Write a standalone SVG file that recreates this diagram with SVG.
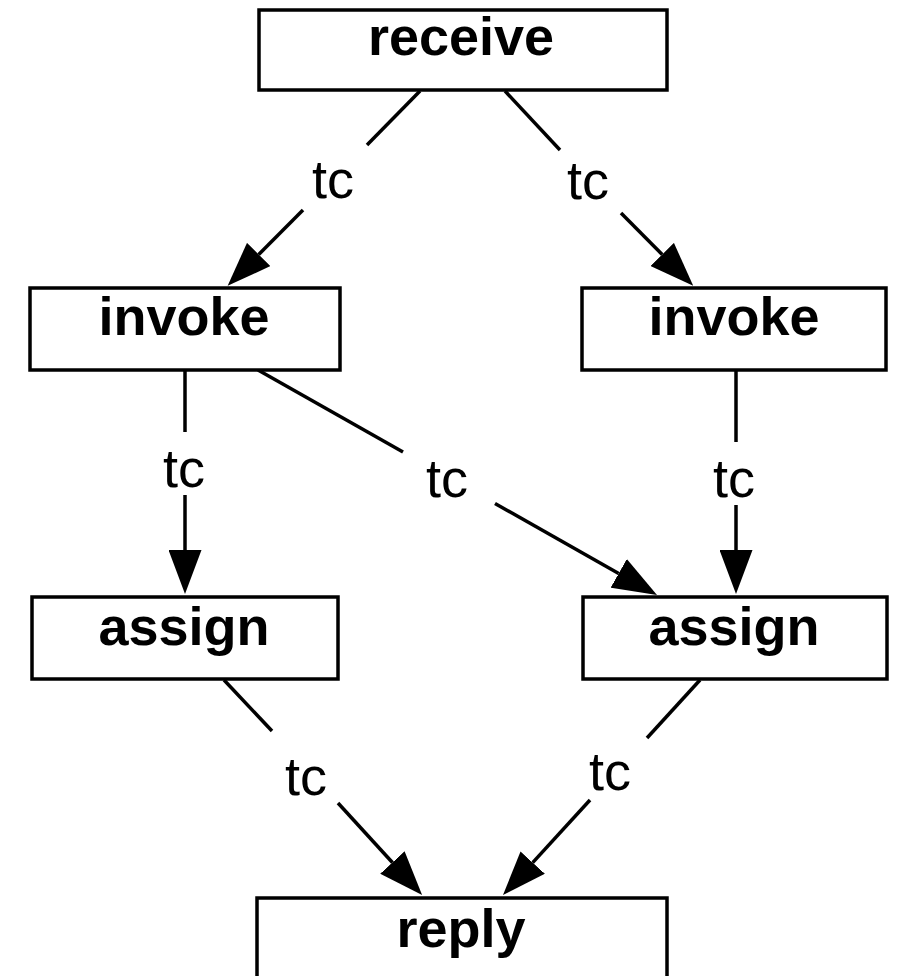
<svg xmlns="http://www.w3.org/2000/svg" width="899" height="976" viewBox="0 0 899 976">
  <style>
    .box { fill: #ffffff; stroke: #000000; stroke-width: 3.5; }
    .name { font-family: "Liberation Sans", Arial, Helvetica, sans-serif; font-weight: bold; font-size: 54px; fill: #000000; text-anchor: middle; }
    .edge { stroke: #000000; stroke-width: 3.5; fill: none; }
    .tag { font-family: "Liberation Sans", Arial, Helvetica, sans-serif; font-size: 54px; fill: #000000; text-anchor: middle; }
  </style>
  <defs>
    <marker id="head" viewBox="0 0 44 33" refX="0" refY="16.5" markerWidth="44" markerHeight="33" markerUnits="userSpaceOnUse" orient="auto">
      <path d="M0,0 L44,16.5 L0,33 Z" fill="#000000"/>
    </marker>
  </defs>
  <rect width="899" height="976" fill="#ffffff"/>

  <!-- connectors: each is broken around its label, the second part carries the arrowhead -->
  <g id="connectors">
    <g id="e-receive-invoke1">
      <path class="edge" d="M420,91 L367,145"/>
      <path class="edge" d="M303,210 L258.7,254.5" marker-end="url(#head)"/>
      <text class="tag" x="333" y="198">tc</text>
    </g>
    <g id="e-receive-invoke2">
      <path class="edge" d="M505,91 L560,150"/>
      <path class="edge" d="M621,213 L662.2,254.5" marker-end="url(#head)"/>
      <text class="tag" x="588" y="199">tc</text>
    </g>
    <g id="e-invoke1-assign1">
      <path class="edge" d="M185,370 L185,432"/>
      <path class="edge" d="M185,495 L185,550" marker-end="url(#head)"/>
      <text class="tag" x="184" y="487">tc</text>
    </g>
    <g id="e-invoke2-assign2">
      <path class="edge" d="M736,370 L736,442"/>
      <path class="edge" d="M736,505 L736,550" marker-end="url(#head)"/>
      <text class="tag" x="734" y="497">tc</text>
    </g>
    <g id="e-invoke1-assign2">
      <path class="edge" d="M258,370 L403,452"/>
      <path class="edge" d="M495,503.5 L618.7,573.4" marker-end="url(#head)"/>
      <text class="tag" x="447" y="497">tc</text>
    </g>
    <g id="e-assign1-reply">
      <path class="edge" d="M224,680 L272,731"/>
      <path class="edge" d="M338,803 L392.4,862.5" marker-end="url(#head)"/>
      <text class="tag" x="306" y="795">tc</text>
    </g>
    <g id="e-assign2-reply">
      <path class="edge" d="M700,680 L647,738"/>
      <path class="edge" d="M590,800 L532.7,862.6" marker-end="url(#head)"/>
      <text class="tag" x="610" y="790">tc</text>
    </g>
  </g>

  <g id="receive">
    <rect class="box" x="259" y="10" width="408" height="80"/>
    <text class="name" x="461" y="55">receive</text>
  </g>
  <g id="invoke1">
    <rect class="box" x="30" y="288" width="310" height="82"/>
    <text class="name" x="184" y="335">invoke</text>
  </g>
  <g id="invoke2">
    <rect class="box" x="582" y="288" width="304" height="82"/>
    <text class="name" x="734" y="335">invoke</text>
  </g>
  <g id="assign1">
    <rect class="box" x="32" y="597" width="306" height="82"/>
    <text class="name" x="184" y="645">assign</text>
  </g>
  <g id="assign2">
    <rect class="box" x="583" y="597" width="304" height="82"/>
    <text class="name" x="734" y="645">assign</text>
  </g>
  <g id="reply">
    <rect class="box" x="257" y="898" width="410" height="110"/>
    <text class="name" x="461" y="947">reply</text>
  </g>
</svg>
